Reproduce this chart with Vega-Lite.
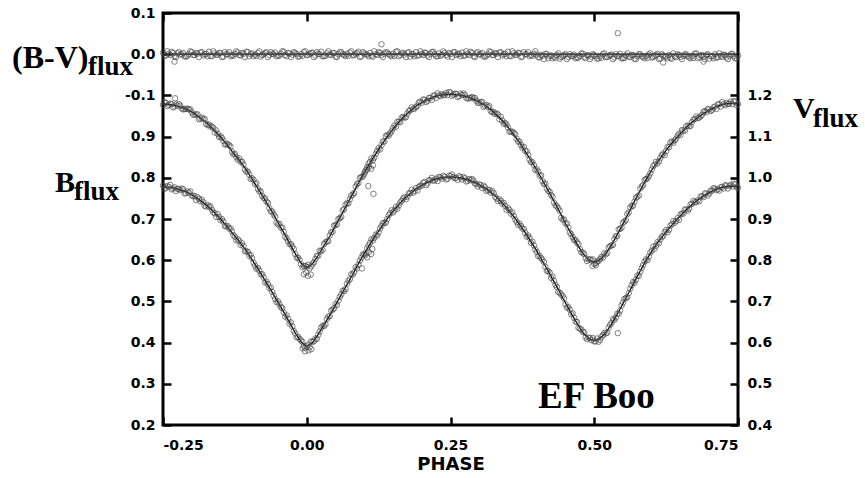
{
"$schema":"https://vega.github.io/schema/vega-lite/v6.json",
"width":575,"height":412,
"autosize":{"type":"none"},
"padding":{"left":163,"top":13,"right":127,"bottom":53},
"background":"white",
"config":{
 "view":{"stroke":"black","strokeWidth":3},
 "axis":{"grid":false,"domain":false,"tickColor":"black","tickWidth":2.5,"tickSize":8,"offset":-8,"labelFont":"DejaVu Sans","labelFontWeight":"bold","labelFontSize":14,"labelColor":"black","titleFont":"DejaVu Sans","titleFontWeight":"bold","titleColor":"black"}
},
"datasets":{
"obs":[
{"p":-0.25,"B":0.781,"V":1.177,"C":0.004},{"p":-0.245,"B":0.776,"V":1.182,"C":-0.003},{"p":-0.24,"B":0.778,"V":1.177,"C":0.001},{"p":-0.235,"B":0.772,"V":1.179,"C":0.006},{"p":-0.23,"B":0.777,"V":1.173,"C":-0.005},{"p":-0.225,"B":0.773,"V":1.175,"C":0.002},{"p":-0.22,"B":0.770,"V":1.175,"C":-0.001},{"p":-0.215,"B":0.772,"V":1.166,"C":0.003},{"p":-0.21,"B":0.763,"V":1.167,"C":-0.006},{"p":-0.205,"B":0.764,"V":1.166,"C":0.000},
{"p":-0.2,"B":0.757,"V":1.159,"C":0.005},{"p":-0.195,"B":0.756,"V":1.153,"C":-0.002},{"p":-0.19,"B":0.753,"V":1.154,"C":0.001},{"p":-0.185,"B":0.743,"V":1.144,"C":0.004},{"p":-0.18,"B":0.741,"V":1.142,"C":-0.003},{"p":-0.175,"B":0.730,"V":1.131,"C":0.001},{"p":-0.17,"B":0.730,"V":1.129,"C":0.006},{"p":-0.165,"B":0.722,"V":1.125,"C":-0.005},{"p":-0.16,"B":0.714,"V":1.110,"C":0.002},{"p":-0.155,"B":0.712,"V":1.107,"C":-0.001},
{"p":-0.15,"B":0.697,"V":1.101,"C":0.003},{"p":-0.145,"B":0.694,"V":1.090,"C":-0.006},{"p":-0.14,"B":0.682,"V":1.081,"C":0.000},{"p":-0.135,"B":0.677,"V":1.079,"C":0.005},{"p":-0.13,"B":0.670,"V":1.063,"C":-0.002},{"p":-0.125,"B":0.657,"V":1.058,"C":0.001},{"p":-0.12,"B":0.651,"V":1.044,"C":0.004},{"p":-0.115,"B":0.637,"V":1.039,"C":-0.003},{"p":-0.11,"B":0.634,"V":1.032,"C":0.001},{"p":-0.105,"B":0.622,"V":1.015,"C":0.006},
{"p":-0.1,"B":0.611,"V":1.008,"C":-0.005},{"p":-0.095,"B":0.605,"V":0.999,"C":0.002},{"p":-0.09,"B":0.587,"V":0.985,"C":-0.001},{"p":-0.085,"B":0.581,"V":0.973,"C":0.003},{"p":-0.08,"B":0.566,"V":0.967,"C":-0.006},{"p":-0.075,"B":0.558,"V":0.951,"C":0.000},{"p":-0.07,"B":0.548,"V":0.942,"C":0.005},{"p":-0.065,"B":0.532,"V":0.926,"C":-0.002},{"p":-0.06,"B":0.523,"V":0.918,"C":0.001},{"p":-0.055,"B":0.506,"V":0.906,"C":0.004},
{"p":-0.05,"B":0.500,"V":0.887,"C":-0.003},{"p":-0.045,"B":0.486,"V":0.879,"C":0.001},{"p":-0.04,"B":0.473,"V":0.869,"C":0.006},{"p":-0.035,"B":0.466,"V":0.853,"C":-0.005},{"p":-0.03,"B":0.446,"V":0.839,"C":0.002},{"p":-0.025,"B":0.439,"V":0.833,"C":-0.001},{"p":-0.02,"B":0.422,"V":0.815,"C":0.003},{"p":-0.015,"B":0.414,"V":0.806,"C":-0.006},{"p":-0.01,"B":0.405,"V":0.790,"C":0.000},{"p":-0.005,"B":0.392,"V":0.786,"C":0.005},
{"p":0.0,"B":0.391,"V":0.784,"C":-0.002},{"p":0.005,"B":0.389,"V":0.780,"C":0.001},{"p":0.01,"B":0.402,"V":0.791,"C":0.004},{"p":0.015,"B":0.410,"V":0.803,"C":-0.003},{"p":0.02,"B":0.419,"V":0.811,"C":0.001},{"p":0.025,"B":0.436,"V":0.822,"C":0.006},{"p":0.03,"B":0.440,"V":0.839,"C":-0.005},{"p":0.035,"B":0.457,"V":0.846,"C":0.002},{"p":0.04,"B":0.464,"V":0.860,"C":-0.001},{"p":0.045,"B":0.480,"V":0.869,"C":0.003},
{"p":0.05,"B":0.494,"V":0.885,"C":-0.006},{"p":0.055,"B":0.502,"V":0.900,"C":0.000},{"p":0.06,"B":0.517,"V":0.905,"C":0.005},{"p":0.065,"B":0.525,"V":0.924,"C":-0.002},{"p":0.07,"B":0.543,"V":0.938,"C":0.001},{"p":0.075,"B":0.554,"V":0.948,"C":0.004},{"p":0.08,"B":0.565,"V":0.959,"C":-0.003},{"p":0.085,"B":0.583,"V":0.979,"C":0.001},{"p":0.09,"B":0.589,"V":0.987,"C":0.006},{"p":0.095,"B":0.606,"V":1.002,"C":-0.005},
{"p":0.1,"B":0.614,"V":1.009,"C":0.002},{"p":0.105,"B":0.629,"V":1.026,"C":-0.001},{"p":0.11,"B":0.642,"V":1.039,"C":0.003},{"p":0.115,"B":0.648,"V":1.043,"C":-0.006},{"p":0.12,"B":0.662,"V":1.058,"C":0.000},{"p":0.125,"B":0.667,"V":1.072,"C":0.005},{"p":0.13,"B":0.683,"V":1.079,"C":-0.002},{"p":0.135,"B":0.691,"V":1.088,"C":0.001},{"p":0.14,"B":0.700,"V":1.104,"C":0.004},{"p":0.145,"B":0.714,"V":1.108,"C":-0.003},
{"p":0.15,"B":0.716,"V":1.120,"C":0.001},{"p":0.155,"B":0.729,"V":1.124,"C":0.006},{"p":0.16,"B":0.733,"V":1.136,"C":-0.005},{"p":0.165,"B":0.744,"V":1.146,"C":0.002},{"p":0.17,"B":0.753,"V":1.146,"C":-0.001},{"p":0.175,"B":0.754,"V":1.156,"C":0.003},{"p":0.18,"B":0.763,"V":1.164,"C":-0.006},{"p":0.185,"B":0.764,"V":1.167,"C":0.000},{"p":0.19,"B":0.775,"V":1.172,"C":0.005},{"p":0.195,"B":0.778,"V":1.183,"C":-0.002},
{"p":0.2,"B":0.781,"V":1.182,"C":0.001},{"p":0.205,"B":0.790,"V":1.189,"C":0.004},{"p":0.21,"B":0.786,"V":1.187,"C":-0.003},{"p":0.215,"B":0.794,"V":1.194,"C":0.001},{"p":0.22,"B":0.793,"V":1.199,"C":0.006},{"p":0.225,"B":0.798,"V":1.194,"C":-0.005},{"p":0.23,"B":0.802,"V":1.200,"C":0.002},{"p":0.235,"B":0.798,"V":1.203,"C":-0.001},{"p":0.24,"B":0.802,"V":1.201,"C":0.003},{"p":0.245,"B":0.798,"V":1.201,"C":-0.006},
{"p":0.25,"B":0.804,"V":1.207,"C":0.000},{"p":0.255,"B":0.802,"V":1.202,"C":0.005},{"p":0.26,"B":0.800,"V":1.204,"C":-0.002},{"p":0.265,"B":0.804,"V":1.198,"C":0.001},{"p":0.27,"B":0.796,"V":1.201,"C":0.004},{"p":0.275,"B":0.799,"V":1.201,"C":-0.003},{"p":0.28,"B":0.793,"V":1.192,"C":0.001},{"p":0.285,"B":0.794,"V":1.194,"C":0.006},{"p":0.29,"B":0.793,"V":1.193,"C":-0.005},{"p":0.295,"B":0.785,"V":1.187,"C":0.002},
{"p":0.3,"B":0.784,"V":1.182,"C":-0.001},{"p":0.305,"B":0.775,"V":1.184,"C":0.003},{"p":0.31,"B":0.777,"V":1.175,"C":-0.006},{"p":0.315,"B":0.770,"V":1.172,"C":0.000},{"p":0.32,"B":0.764,"V":1.162,"C":0.005},{"p":0.325,"B":0.763,"V":1.160,"C":-0.002},{"p":0.33,"B":0.750,"V":1.156,"C":0.001},{"p":0.335,"B":0.748,"V":1.142,"C":0.004},{"p":0.34,"B":0.737,"V":1.139,"C":-0.003},{"p":0.345,"B":0.732,"V":1.133,"C":0.001},
{"p":0.35,"B":0.726,"V":1.122,"C":0.006},{"p":0.355,"B":0.713,"V":1.112,"C":-0.005},{"p":0.36,"B":0.707,"V":1.109,"C":0.002},{"p":0.365,"B":0.693,"V":1.095,"C":-0.001},{"p":0.37,"B":0.689,"V":1.088,"C":0.003},{"p":0.375,"B":0.677,"V":1.073,"C":-0.006},{"p":0.38,"B":0.666,"V":1.065,"C":0.000},{"p":0.385,"B":0.660,"V":1.056,"C":0.005},{"p":0.39,"B":0.642,"V":1.038,"C":-0.002},{"p":0.395,"B":0.636,"V":1.031,"C":0.001},
{"p":0.4,"B":0.620,"V":1.021,"C":-0.001},{"p":0.405,"B":0.611,"V":1.005,"C":-0.008},{"p":0.41,"B":0.601,"V":0.992,"C":-0.004},{"p":0.415,"B":0.584,"V":0.986,"C":0.001},{"p":0.42,"B":0.574,"V":0.968,"C":-0.010},{"p":0.425,"B":0.557,"V":0.958,"C":-0.003},{"p":0.43,"B":0.550,"V":0.940,"C":-0.006},{"p":0.435,"B":0.535,"V":0.931,"C":-0.002},{"p":0.44,"B":0.521,"V":0.920,"C":-0.011},{"p":0.445,"B":0.513,"V":0.898,"C":-0.005},
{"p":0.45,"B":0.493,"V":0.889,"C":0.000},{"p":0.455,"B":0.486,"V":0.879,"C":-0.007},{"p":0.46,"B":0.469,"V":0.863,"C":-0.004},{"p":0.465,"B":0.460,"V":0.849,"C":-0.001},{"p":0.47,"B":0.450,"V":0.843,"C":-0.008},{"p":0.475,"B":0.434,"V":0.827,"C":-0.004},{"p":0.48,"B":0.426,"V":0.819,"C":0.001},{"p":0.485,"B":0.413,"V":0.805,"C":-0.010},{"p":0.49,"B":0.412,"V":0.802,"C":-0.003},{"p":0.495,"B":0.406,"V":0.800,"C":-0.006},
{"p":0.5,"B":0.403,"V":0.791,"C":-0.002},{"p":0.505,"B":0.410,"V":0.797,"C":-0.011},{"p":0.51,"B":0.407,"V":0.803,"C":-0.005},{"p":0.515,"B":0.418,"V":0.806,"C":0.000},{"p":0.52,"B":0.422,"V":0.814,"C":-0.007},{"p":0.525,"B":0.436,"V":0.831,"C":-0.004},{"p":0.53,"B":0.448,"V":0.836,"C":-0.001},{"p":0.535,"B":0.455,"V":0.851,"C":-0.008},{"p":0.54,"B":0.470,"V":0.859,"C":-0.004},{"p":0.545,"B":0.478,"V":0.876,"C":0.001},
{"p":0.55,"B":0.497,"V":0.891,"C":-0.010},{"p":0.555,"B":0.508,"V":0.897,"C":-0.003},{"p":0.56,"B":0.520,"V":0.916,"C":-0.006},{"p":0.565,"B":0.539,"V":0.932,"C":-0.002},{"p":0.57,"B":0.545,"V":0.942,"C":-0.011},{"p":0.575,"B":0.563,"V":0.954,"C":-0.005},{"p":0.58,"B":0.572,"V":0.974,"C":0.000},{"p":0.585,"B":0.588,"V":0.982,"C":-0.007},{"p":0.59,"B":0.602,"V":0.997,"C":-0.004},{"p":0.595,"B":0.609,"V":1.004,"C":-0.001},
{"p":0.6,"B":0.623,"V":1.020,"C":-0.008},{"p":0.605,"B":0.628,"V":1.032,"C":-0.004},{"p":0.61,"B":0.644,"V":1.035,"C":0.001},{"p":0.615,"B":0.651,"V":1.048,"C":-0.010},{"p":0.62,"B":0.659,"V":1.059,"C":-0.003},{"p":0.625,"B":0.673,"V":1.065,"C":-0.006},{"p":0.63,"B":0.674,"V":1.074,"C":-0.002},{"p":0.635,"B":0.687,"V":1.088,"C":-0.011},{"p":0.64,"B":0.691,"V":1.091,"C":-0.005},{"p":0.645,"B":0.702,"V":1.102,"C":0.000},
{"p":0.65,"B":0.711,"V":1.104,"C":-0.007},{"p":0.655,"B":0.713,"V":1.115,"C":-0.004},{"p":0.66,"B":0.723,"V":1.125,"C":-0.001},{"p":0.665,"B":0.725,"V":1.125,"C":-0.008},{"p":0.67,"B":0.737,"V":1.135,"C":-0.004},{"p":0.675,"B":0.741,"V":1.143,"C":0.001},{"p":0.68,"B":0.745,"V":1.145,"C":-0.010},{"p":0.685,"B":0.755,"V":1.149,"C":-0.003},{"p":0.69,"B":0.753,"V":1.160,"C":-0.006},{"p":0.695,"B":0.762,"V":1.159,"C":-0.002},
{"p":0.7,"B":0.762,"V":1.166,"C":-0.011},{"p":0.705,"B":0.769,"V":1.165,"C":-0.005},{"p":0.71,"B":0.774,"V":1.173,"C":0.000},{"p":0.715,"B":0.772,"V":1.178,"C":-0.007},{"p":0.72,"B":0.777,"V":1.173,"C":-0.004},{"p":0.725,"B":0.774,"V":1.179,"C":-0.001},{"p":0.73,"B":0.781,"V":1.182,"C":-0.008},{"p":0.735,"B":0.780,"V":1.180,"C":-0.004},{"p":0.74,"B":0.779,"V":1.179,"C":0.001},{"p":0.745,"B":0.784,"V":1.185,"C":-0.010},
{"p":0.75,"B":0.776,"V":1.179,"C":-0.003},
{"p":-0.2475,"B":0.773,"V":1.184,"C":-0.004},{"p":-0.2425,"B":0.780,"V":1.174,"C":0.007},{"p":-0.2375,"B":0.783,"V":1.180,"C":-0.002},{"p":-0.2325,"B":0.774,"V":1.171,"C":0.003},{"p":-0.2275,"B":0.768,"V":1.178,"C":-0.007},{"p":-0.2225,"B":0.773,"V":1.179,"C":0.005},{"p":-0.2175,"B":0.774,"V":1.168,"C":0.000},{"p":-0.2125,"B":0.762,"V":1.167,"C":-0.005},{"p":-0.2075,"B":0.767,"V":1.168,"C":-0.004},{"p":-0.2025,"B":0.767,"V":1.166,"C":0.007},
{"p":-0.1975,"B":0.755,"V":1.153,"C":-0.002},{"p":-0.1925,"B":0.746,"V":1.154,"C":0.003},{"p":-0.1875,"B":0.749,"V":1.142,"C":-0.007},{"p":-0.1825,"B":0.747,"V":1.146,"C":0.005},{"p":-0.1775,"B":0.732,"V":1.143,"C":0.000},{"p":-0.1725,"B":0.734,"V":1.128,"C":-0.005},{"p":-0.1675,"B":0.731,"V":1.124,"C":-0.004},{"p":-0.1625,"B":0.716,"V":1.121,"C":0.007},{"p":-0.1575,"B":0.705,"V":1.115,"C":-0.002},{"p":-0.1525,"B":0.705,"V":1.099,"C":0.003},
{"p":-0.1475,"B":0.700,"V":1.097,"C":-0.007},{"p":-0.1425,"B":0.683,"V":1.081,"C":0.005},{"p":-0.1375,"B":0.683,"V":1.082,"C":0.000},{"p":-0.1325,"B":0.677,"V":1.076,"C":-0.005},{"p":-0.1275,"B":0.661,"V":1.057,"C":-0.004},{"p":-0.1225,"B":0.648,"V":1.050,"C":0.007},{"p":-0.1175,"B":0.647,"V":1.047,"C":-0.002},{"p":-0.1125,"B":0.641,"V":1.039,"C":0.003},{"p":-0.1075,"B":0.622,"V":1.020,"C":-0.007},{"p":-0.1025,"B":0.620,"V":1.015,"C":0.005},
{"p":-0.0975,"B":0.613,"V":0.997,"C":0.000},{"p":-0.0925,"B":0.594,"V":0.995,"C":-0.005},{"p":-0.0875,"B":0.579,"V":0.987,"C":-0.004},{"p":-0.0825,"B":0.575,"V":0.967,"C":0.007},{"p":-0.0775,"B":0.566,"V":0.956,"C":-0.002},{"p":-0.0725,"B":0.546,"V":0.950,"C":0.003},{"p":-0.0675,"B":0.542,"V":0.939,"C":-0.007},{"p":-0.0625,"B":0.534,"V":0.919,"C":0.005},{"p":-0.0575,"B":0.514,"V":0.911,"C":0.000},{"p":-0.0525,"B":0.498,"V":0.891,"C":-0.005},
{"p":-0.0475,"B":0.493,"V":0.888,"C":-0.004},{"p":-0.0425,"B":0.484,"V":0.879,"C":0.007},{"p":-0.0375,"B":0.463,"V":0.857,"C":-0.002},{"p":-0.0325,"B":0.458,"V":0.846,"C":0.003},{"p":-0.0275,"B":0.449,"V":0.839,"C":-0.007},{"p":-0.0225,"B":0.428,"V":0.827,"C":0.005},{"p":-0.0175,"B":0.413,"V":0.806,"C":0.000},{"p":-0.0125,"B":0.409,"V":0.801,"C":-0.005},{"p":-0.0075,"B":0.402,"V":0.783,"C":-0.004},{"p":-0.0025,"B":0.387,"V":0.786,"C":0.007},
{"p":0.0025,"B":0.395,"V":0.789,"C":-0.002},{"p":0.0075,"B":0.403,"V":0.785,"C":0.003},{"p":0.0125,"B":0.403,"V":0.795,"C":-0.007},{"p":0.0175,"B":0.409,"V":0.810,"C":0.005},{"p":0.0225,"B":0.427,"V":0.823,"C":0.000},{"p":0.0275,"B":0.441,"V":0.825,"C":-0.005},{"p":0.0325,"B":0.444,"V":0.843,"C":-0.004},{"p":0.0375,"B":0.463,"V":0.846,"C":0.007},{"p":0.0425,"B":0.478,"V":0.868,"C":-0.002},{"p":0.0475,"B":0.483,"V":0.884,"C":0.003},
{"p":0.0525,"B":0.491,"V":0.887,"C":-0.007},{"p":0.0575,"B":0.511,"V":0.902,"C":0.005},{"p":0.0625,"B":0.526,"V":0.921,"C":0.000},{"p":0.0675,"B":0.530,"V":0.935,"C":-0.005},{"p":0.0725,"B":0.550,"V":0.938,"C":-0.004},{"p":0.0775,"B":0.566,"V":0.957,"C":0.007},{"p":0.0825,"B":0.571,"V":0.963,"C":-0.002},{"p":0.0875,"B":0.580,"V":0.985,"C":0.003},{"p":0.0925,"B":0.599,"V":1.000,"C":-0.007},{"p":0.0975,"B":0.614,"V":1.003,"C":0.005},
{"p":0.1025,"B":0.617,"V":1.018,"C":0.000},{"p":0.1075,"B":0.636,"V":1.034,"C":-0.005},{"p":0.1125,"B":0.651,"V":1.047,"C":-0.004},{"p":0.1175,"B":0.654,"V":1.049,"C":0.007},{"p":0.1225,"B":0.660,"V":1.065,"C":-0.002},{"p":0.1275,"B":0.677,"V":1.069,"C":0.003},{"p":0.1325,"B":0.690,"V":1.088,"C":-0.007},{"p":0.1375,"B":0.691,"V":1.101,"C":0.005},{"p":0.1425,"B":0.709,"V":1.102,"C":0.000},{"p":0.1475,"B":0.721,"V":1.113,"C":-0.005},
{"p":0.1525,"B":0.721,"V":1.127,"C":-0.004},{"p":0.1575,"B":0.725,"V":1.136,"C":0.007},{"p":0.1625,"B":0.740,"V":1.135,"C":-0.002},{"p":0.1675,"B":0.750,"V":1.148,"C":0.003},{"p":0.1725,"B":0.748,"V":1.147,"C":-0.007},{"p":0.1775,"B":0.762,"V":1.162,"C":0.005},{"p":0.1825,"B":0.771,"V":1.171,"C":0.000},{"p":0.1875,"B":0.768,"V":1.168,"C":-0.005},{"p":0.1925,"B":0.769,"V":1.175,"C":-0.004},{"p":0.1975,"B":0.781,"V":1.185,"C":0.007},
{"p":0.2025,"B":0.788,"V":1.190,"C":-0.002},{"p":0.2075,"B":0.782,"V":1.184,"C":0.003},{"p":0.2125,"B":0.794,"V":1.194,"C":-0.007},{"p":0.2175,"B":0.800,"V":1.189,"C":0.005},{"p":0.2225,"B":0.794,"V":1.200,"C":0.000},{"p":0.2275,"B":0.792,"V":1.205,"C":-0.005},{"p":0.2325,"B":0.801,"V":1.198,"C":-0.004},{"p":0.2375,"B":0.805,"V":1.201,"C":0.007},{"p":0.2425,"B":0.796,"V":1.206,"C":-0.002},{"p":0.2475,"B":0.805,"V":1.208,"C":0.003},
{"p":0.2525,"B":0.808,"V":1.199,"C":-0.007},{"p":0.2575,"B":0.799,"V":1.204,"C":0.005},{"p":0.2625,"B":0.795,"V":1.196,"C":0.000},{"p":0.2675,"B":0.801,"V":1.204,"C":-0.005},{"p":0.2725,"B":0.802,"V":1.205,"C":-0.004},{"p":0.2775,"B":0.791,"V":1.194,"C":0.007},{"p":0.2825,"B":0.797,"V":1.194,"C":-0.002},{"p":0.2875,"B":0.797,"V":1.196,"C":0.003},{"p":0.2925,"B":0.786,"V":1.194,"C":-0.007},{"p":0.2975,"B":0.779,"V":1.182,"C":0.005},
{"p":0.3025,"B":0.782,"V":1.184,"C":0.000},{"p":0.3075,"B":0.781,"V":1.172,"C":-0.005},{"p":0.3125,"B":0.768,"V":1.177,"C":-0.004},{"p":0.3175,"B":0.771,"V":1.174,"C":0.007},{"p":0.3225,"B":0.768,"V":1.159,"C":-0.002},{"p":0.3275,"B":0.754,"V":1.155,"C":0.003},{"p":0.3325,"B":0.744,"V":1.154,"C":-0.007},{"p":0.3375,"B":0.744,"V":1.148,"C":0.005},{"p":0.3425,"B":0.739,"V":1.131,"C":0.000},{"p":0.3475,"B":0.722,"V":1.129,"C":-0.005},
{"p":0.3525,"B":0.722,"V":1.112,"C":-0.004},{"p":0.3575,"B":0.716,"V":1.112,"C":0.007},{"p":0.3625,"B":0.699,"V":1.106,"C":-0.002},{"p":0.3675,"B":0.686,"V":1.088,"C":0.003},{"p":0.3725,"B":0.683,"V":1.080,"C":-0.007},{"p":0.3775,"B":0.676,"V":1.075,"C":0.005},{"p":0.3825,"B":0.657,"V":1.064,"C":0.000},{"p":0.3875,"B":0.654,"V":1.044,"C":-0.005},{"p":0.3925,"B":0.645,"V":1.038,"C":-0.004},{"p":0.3975,"B":0.626,"V":1.019,"C":0.007},
{"p":0.4025,"B":0.610,"V":1.015,"C":-0.007},{"p":0.4075,"B":0.605,"V":1.006,"C":-0.002},{"p":0.4125,"B":0.596,"V":0.985,"C":-0.012},{"p":0.4175,"B":0.574,"V":0.974,"C":0.000},{"p":0.4225,"B":0.570,"V":0.966,"C":-0.005},{"p":0.4275,"B":0.560,"V":0.954,"C":-0.010},{"p":0.4325,"B":0.540,"V":0.933,"C":-0.009},{"p":0.4375,"B":0.523,"V":0.926,"C":0.002},{"p":0.4425,"B":0.517,"V":0.903,"C":-0.007},{"p":0.4475,"B":0.507,"V":0.899,"C":-0.002},
{"p":0.4525,"B":0.485,"V":0.889,"C":-0.012},{"p":0.4575,"B":0.480,"V":0.867,"C":0.000},{"p":0.4625,"B":0.471,"V":0.856,"C":-0.005},{"p":0.4675,"B":0.451,"V":0.849,"C":-0.010},{"p":0.4725,"B":0.436,"V":0.839,"C":-0.009},{"p":0.4775,"B":0.432,"V":0.819,"C":0.002},{"p":0.4825,"B":0.425,"V":0.815,"C":-0.007},{"p":0.4875,"B":0.408,"V":0.798,"C":-0.002},{"p":0.4925,"B":0.411,"V":0.802,"C":-0.012},{"p":0.4975,"B":0.411,"V":0.802,"C":0.000},
{"p":0.5025,"B":0.403,"V":0.793,"C":-0.005},{"p":0.5075,"B":0.402,"V":0.798,"C":-0.010},{"p":0.5125,"B":0.414,"V":0.808,"C":-0.009},{"p":0.5175,"B":0.424,"V":0.817,"C":0.002},{"p":0.5225,"B":0.424,"V":0.817,"C":-0.007},{"p":0.5275,"B":0.443,"V":0.834,"C":-0.002},{"p":0.5325,"B":0.457,"V":0.837,"C":-0.012},{"p":0.5375,"B":0.461,"V":0.858,"C":0.000},{"p":0.5425,"B":0.470,"V":0.875,"C":-0.005},{"p":0.5475,"B":0.490,"V":0.879,"C":-0.010},
{"p":0.5525,"B":0.506,"V":0.894,"C":-0.009},{"p":0.5575,"B":0.510,"V":0.912,"C":0.002},{"p":0.5625,"B":0.531,"V":0.928,"C":-0.007},{"p":0.5675,"B":0.547,"V":0.932,"C":-0.002},{"p":0.5725,"B":0.553,"V":0.952,"C":-0.012},{"p":0.5775,"B":0.562,"V":0.957,"C":0.000},{"p":0.5825,"B":0.581,"V":0.979,"C":-0.005},{"p":0.5875,"B":0.597,"V":0.995,"C":-0.010},{"p":0.5925,"B":0.600,"V":0.998,"C":-0.009},{"p":0.5975,"B":0.619,"V":1.011,"C":0.002},
{"p":0.6025,"B":0.633,"V":1.028,"C":-0.007},{"p":0.6075,"B":0.635,"V":1.039,"C":-0.002},{"p":0.6125,"B":0.641,"V":1.040,"C":-0.012},{"p":0.6175,"B":0.657,"V":1.055,"C":0.000},{"p":0.6225,"B":0.668,"V":1.055,"C":-0.005},{"p":0.6275,"B":0.668,"V":1.075,"C":-0.010},{"p":0.6325,"B":0.684,"V":1.086,"C":-0.009},{"p":0.6375,"B":0.695,"V":1.085,"C":0.002},{"p":0.6425,"B":0.695,"V":1.095,"C":-0.007},{"p":0.6475,"B":0.698,"V":1.107,"C":-0.002},
{"p":0.6525,"B":0.713,"V":1.116,"C":-0.012},{"p":0.6575,"B":0.723,"V":1.114,"C":0.000},{"p":0.6625,"B":0.720,"V":1.127,"C":-0.005},{"p":0.6675,"B":0.735,"V":1.126,"C":-0.010},{"p":0.6725,"B":0.744,"V":1.141,"C":-0.009},{"p":0.6775,"B":0.741,"V":1.149,"C":0.002},{"p":0.6825,"B":0.743,"V":1.146,"C":-0.007},{"p":0.6875,"B":0.755,"V":1.153,"C":-0.002},{"p":0.6925,"B":0.762,"V":1.162,"C":-0.012},{"p":0.6975,"B":0.757,"V":1.167,"C":0.000},
{"p":0.7025,"B":0.769,"V":1.162,"C":-0.005},{"p":0.7075,"B":0.775,"V":1.171,"C":-0.010},{"p":0.7125,"B":0.770,"V":1.167,"C":-0.009},{"p":0.7175,"B":0.769,"V":1.179,"C":0.002},{"p":0.7225,"B":0.778,"V":1.184,"C":-0.007},{"p":0.7275,"B":0.782,"V":1.176,"C":-0.002},{"p":0.7325,"B":0.774,"V":1.179,"C":-0.012},{"p":0.7375,"B":0.783,"V":1.185,"C":0.000},{"p":0.7425,"B":0.786,"V":1.186,"C":-0.005},{"p":0.7475,"B":0.777,"V":1.176,"C":-0.010},
{"p":-0.003,"B":0.379},{"p":0.003,"B":0.381},{"p":0.008,"B":0.384},{"p":-0.007,"B":0.386},{"p":0.096,"B":0.580},{"p":0.102,"B":0.612},{"p":0.105,"B":0.607},{"p":0.108,"B":0.620},{"p":0.112,"B":0.615},{"p":0.114,"B":0.627},{"p":0.541,"B":0.423},
{"p":-0.005,"V":0.766},{"p":0.002,"V":0.762},{"p":0.007,"V":0.765},{"p":-0.001,"V":0.770},{"p":0.101,"V":1.014},{"p":0.105,"V":1.020},{"p":0.108,"V":1.026},{"p":0.112,"V":1.022},{"p":0.115,"V":1.030},{"p":0.107,"V":0.980},{"p":0.116,"V":0.961},{"p":-0.229,"V":1.193},{"p":0.497,"V":0.786},{"p":0.503,"V":0.788},
{"p":0.541,"C":0.051},{"p":0.13,"C":0.024},{"p":-0.23,"C":-0.018},{"p":0.62,"C":-0.02},{"p":0.69,"C":-0.018}
],
"fit":[
{"p":-0.25,"B":0.778,"V":1.179},{"p":-0.24,"B":0.777,"V":1.178},{"p":-0.23,"B":0.775,"V":1.176},{"p":-0.22,"B":0.771,"V":1.172},{"p":-0.21,"B":0.766,"V":1.167},{"p":-0.2,"B":0.759,"V":1.160},{"p":-0.19,"B":0.750,"V":1.150},{"p":-0.18,"B":0.740,"V":1.140},{"p":-0.17,"B":0.728,"V":1.128},{"p":-0.16,"B":0.715,"V":1.114},
{"p":-0.15,"B":0.700,"V":1.099},{"p":-0.14,"B":0.684,"V":1.083},{"p":-0.13,"B":0.667,"V":1.064},{"p":-0.12,"B":0.650,"V":1.047},{"p":-0.11,"B":0.632,"V":1.029},{"p":-0.1,"B":0.612,"V":1.008},{"p":-0.09,"B":0.590,"V":0.986},{"p":-0.08,"B":0.568,"V":0.963},{"p":-0.07,"B":0.545,"V":0.940},{"p":-0.06,"B":0.522,"V":0.917},
{"p":-0.05,"B":0.498,"V":0.891},{"p":-0.04,"B":0.474,"V":0.867},{"p":-0.03,"B":0.449,"V":0.841},{"p":-0.02,"B":0.424,"V":0.816},{"p":-0.01,"B":0.402,"V":0.793},{"p":0.0,"B":0.390,"V":0.781},{"p":0.01,"B":0.400,"V":0.791},{"p":0.02,"B":0.420,"V":0.812},{"p":0.03,"B":0.443,"V":0.835},{"p":0.04,"B":0.466,"V":0.858},
{"p":0.05,"B":0.491,"V":0.884},{"p":0.06,"B":0.516,"V":0.909},{"p":0.07,"B":0.541,"V":0.936},{"p":0.08,"B":0.566,"V":0.961},{"p":0.09,"B":0.592,"V":0.988},{"p":0.1,"B":0.616,"V":1.012},{"p":0.11,"B":0.639,"V":1.036},{"p":0.12,"B":0.661,"V":1.058},{"p":0.13,"B":0.681,"V":1.080},{"p":0.14,"B":0.701,"V":1.100},
{"p":0.15,"B":0.719,"V":1.118},{"p":0.16,"B":0.735,"V":1.135},{"p":0.17,"B":0.750,"V":1.150},{"p":0.18,"B":0.762,"V":1.162},{"p":0.19,"B":0.773,"V":1.174},{"p":0.2,"B":0.782,"V":1.183},{"p":0.21,"B":0.789,"V":1.190},{"p":0.22,"B":0.795,"V":1.196},{"p":0.23,"B":0.799,"V":1.200},{"p":0.24,"B":0.801,"V":1.202},
{"p":0.25,"B":0.802,"V":1.203},{"p":0.26,"B":0.801,"V":1.202},{"p":0.27,"B":0.799,"V":1.200},{"p":0.28,"B":0.795,"V":1.196},{"p":0.29,"B":0.790,"V":1.191},{"p":0.3,"B":0.783,"V":1.184},{"p":0.31,"B":0.775,"V":1.176},{"p":0.32,"B":0.765,"V":1.165},{"p":0.33,"B":0.753,"V":1.153},{"p":0.34,"B":0.739,"V":1.139},
{"p":0.35,"B":0.723,"V":1.123},{"p":0.36,"B":0.706,"V":1.105},{"p":0.37,"B":0.687,"V":1.086},{"p":0.38,"B":0.667,"V":1.064},{"p":0.39,"B":0.645,"V":1.042},{"p":0.4,"B":0.622,"V":1.019},{"p":0.41,"B":0.598,"V":0.994},{"p":0.42,"B":0.573,"V":0.969},{"p":0.43,"B":0.548,"V":0.943},{"p":0.44,"B":0.522,"V":0.917},
{"p":0.45,"B":0.496,"V":0.889},{"p":0.46,"B":0.471,"V":0.864},{"p":0.47,"B":0.447,"V":0.839},{"p":0.48,"B":0.425,"V":0.817},{"p":0.49,"B":0.410,"V":0.801},{"p":0.5,"B":0.404,"V":0.795},{"p":0.51,"B":0.410,"V":0.801},{"p":0.52,"B":0.424,"V":0.816},{"p":0.53,"B":0.445,"V":0.837},{"p":0.54,"B":0.469,"V":0.862},
{"p":0.55,"B":0.495,"V":0.888},{"p":0.56,"B":0.521,"V":0.916},{"p":0.57,"B":0.548,"V":0.943},{"p":0.58,"B":0.574,"V":0.970},{"p":0.59,"B":0.599,"V":0.995},{"p":0.6,"B":0.622,"V":1.019},{"p":0.61,"B":0.642,"V":1.039},{"p":0.62,"B":0.660,"V":1.057},{"p":0.63,"B":0.677,"V":1.076},{"p":0.64,"B":0.693,"V":1.092},
{"p":0.65,"B":0.708,"V":1.107},{"p":0.66,"B":0.722,"V":1.122},{"p":0.67,"B":0.735,"V":1.135},{"p":0.68,"B":0.746,"V":1.146},{"p":0.69,"B":0.756,"V":1.156},{"p":0.7,"B":0.764,"V":1.164},{"p":0.71,"B":0.771,"V":1.172},{"p":0.72,"B":0.776,"V":1.177},{"p":0.73,"B":0.779,"V":1.180},{"p":0.74,"B":0.780,"V":1.181},
{"p":0.75,"B":0.779,"V":1.180}
]
},
"layer":[
{
 "layer":[
  {"data":{"values":[{}]},"mark":{"type":"rule","color":"black","strokeWidth":1.2},
   "encoding":{"y":{"datum":0,"type":"quantitative","scale":{"domain":[-0.9,0.1],"nice":false,"zero":false},"axis":null}}},
  {"data":{"name":"obs"},
   "mark":{"type":"point","shape":"circle","filled":false,"stroke":"#4a4a4a","strokeWidth":1,"size":30},
   "encoding":{
    "x":{"field":"p","type":"quantitative","scale":{"domain":[-0.25,0.75],"nice":false,"zero":false},"axis":null},
    "y":{"field":"C","type":"quantitative","scale":{"domain":[-0.9,0.1],"nice":false,"zero":false},"axis":null}}}
 ]
},
{
 "layer":[
  {"data":{"name":"fit"},
   "mark":{"type":"line","color":"black","strokeWidth":1.2},
   "encoding":{
    "x":{"field":"p","type":"quantitative","scale":{"domain":[-0.25,0.75],"nice":false,"zero":false},
         "axis":{"orient":"bottom","values":[-0.25,0,0.25,0.5,0.75],"labelExpr":"replace(format(datum.value,'.2f'),'\u2212','-')","labelPadding":13,"title":"PHASE","titleFontSize":18,"titlePadding":3}},
    "y":{"field":"B","type":"quantitative","scale":{"domain":[0.2,1.2],"nice":false,"zero":false},
         "axis":{"orient":"left","values":[0.2,0.3,0.4,0.5,0.6,0.7,0.8,0.9,1.0,1.1,1.2],"labelExpr":"datum.value > 0.95 ? replace(format(datum.value - 1.1,'.1f'),'\u2212','-') : format(datum.value,'.1f')","labelPadding":8,"title":null}}}},
  {"data":{"name":"obs"},
   "mark":{"type":"point","shape":"circle","filled":false,"stroke":"#4a4a4a","strokeWidth":1,"size":30},
   "encoding":{"x":{"field":"p","type":"quantitative"},"y":{"field":"B","type":"quantitative"}}},
  {"data":{"values":[{}]},"mark":{"type":"text","font":"Liberation Serif","fontWeight":"bold","fontSize":32,"align":"left","baseline":"alphabetic","color":"black","text":"(B-V)"},
   "encoding":{"x":{"datum":-0.5126,"type":"quantitative"},"y":{"datum":1.0665,"type":"quantitative"}}},
  {"data":{"values":[{}]},"mark":{"type":"text","font":"Liberation Serif","fontWeight":"bold","fontSize":27,"align":"left","baseline":"alphabetic","color":"black","text":"flux"},
   "encoding":{"x":{"datum":-0.3804,"type":"quantitative"},"y":{"datum":1.0495,"type":"quantitative"}}},
  {"data":{"values":[{}]},"mark":{"type":"text","font":"Liberation Serif","fontWeight":"bold","fontSize":30,"align":"left","baseline":"alphabetic","color":"black","text":"B"},
   "encoding":{"x":{"datum":-0.4378,"type":"quantitative"},"y":{"datum":0.7655,"type":"quantitative"}}},
  {"data":{"values":[{}]},"mark":{"type":"text","font":"Liberation Serif","fontWeight":"bold","fontSize":27,"align":"left","baseline":"alphabetic","color":"black","text":"flux"},
   "encoding":{"x":{"datum":-0.4048,"type":"quantitative"},"y":{"datum":0.746,"type":"quantitative"}}},
  {"data":{"values":[{}]},"mark":{"type":"text","font":"Liberation Serif","fontWeight":"bold","fontSize":30,"align":"left","baseline":"alphabetic","color":"black","text":"V"},
   "encoding":{"x":{"datum":0.8457,"type":"quantitative"},"y":{"datum":0.945,"type":"quantitative"}}},
  {"data":{"values":[{}]},"mark":{"type":"text","font":"Liberation Serif","fontWeight":"bold","fontSize":27,"align":"left","baseline":"alphabetic","color":"black","text":"flux"},
   "encoding":{"x":{"datum":0.8804,"type":"quantitative"},"y":{"datum":0.9233,"type":"quantitative"}}},
  {"data":{"values":[{}]},"mark":{"type":"text","font":"Liberation Serif","fontWeight":"bold","fontSize":37,"align":"left","baseline":"alphabetic","color":"black","text":"EF Boo"},
   "encoding":{"x":{"datum":0.4022,"type":"quantitative"},"y":{"datum":0.2413,"type":"quantitative"}}}
 ]
},
{
 "layer":[
  {"data":{"name":"fit"},
   "mark":{"type":"line","color":"black","strokeWidth":1.2},
   "encoding":{
    "x":{"field":"p","type":"quantitative","scale":{"domain":[-0.25,0.75],"nice":false,"zero":false},
         "axis":{"orient":"top","values":[-0.25,0,0.25,0.5,0.75],"labels":false,"title":null}},
    "y":{"field":"V","type":"quantitative","scale":{"domain":[0.4,1.4],"nice":false,"zero":false},
         "axis":{"orient":"right","values":[0.4,0.5,0.6,0.7,0.8,0.9,1.0,1.1,1.2],"format":".1f","labelPadding":9,"title":null}}}},
  {"data":{"name":"obs"},
   "mark":{"type":"point","shape":"circle","filled":false,"stroke":"#4a4a4a","strokeWidth":1,"size":30},
   "encoding":{"x":{"field":"p","type":"quantitative"},"y":{"field":"V","type":"quantitative"}}}
 ]
}
],
"resolve":{"scale":{"y":"independent"},"axis":{"y":"independent","x":"independent"}}
}
